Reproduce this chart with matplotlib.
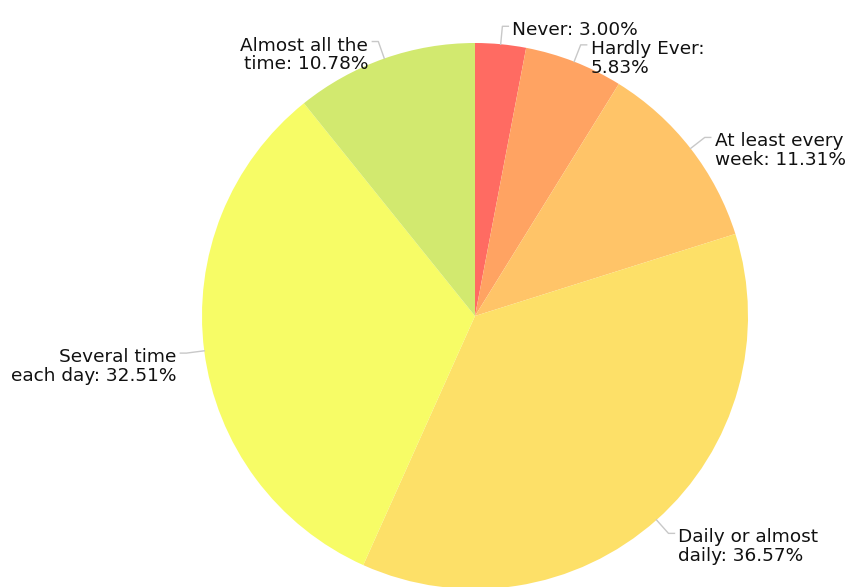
import numpy as np
import matplotlib
matplotlib.use("Agg")
from matplotlib import pyplot as plt

# data
labels = ["Never", "Hardly Ever", "At least every week", "Daily or almost daily",
          "Several time each day", "Almost all the time"]
label_text = ["Never:", "Hardly Ever:\n", "At least every\nweek:", "Daily or almost\ndaily:",
              "Several time\neach day:", "Almost all the\ntime:"]
values = [3.00, 5.83, 11.31, 36.57, 32.51, 10.78]
colors = ["#ff6b62", "#ffa362", "#ffc468", "#fde068", "#f7fc66", "#d2e96f"]

W, H = 850, 587
cx, cy, R = 475, H - 316, 273

fig = plt.figure(figsize=(W / 100, H / 100), dpi=100)
ax = fig.add_axes([0, 0, 1, 1])
wedges, _ = ax.pie(values, colors=colors, startangle=90, counterclock=False,
                   center=(cx, cy), radius=R, wedgeprops=dict(linewidth=0))
ax.set_xlim(0, W)
ax.set_ylim(0, H)
ax.set_aspect("equal")
ax.axis("off")

for w, txt, v in zip(wedges, label_text, values):
    ang = np.deg2rad((w.theta1 + w.theta2) / 2)
    dx, dy = np.cos(ang), np.sin(ang)
    p0 = (cx + R * dx, cy + R * dy)
    p1 = (cx + (R + 18) * dx, cy + (R + 18) * dy)
    side = 1 if dx >= 0 else -1
    p2 = (p1[0] + 6 * side, p1[1])
    ax.plot([p0[0], p1[0], p2[0]], [p0[1], p1[1], p2[1]], color="#c8c8c8", lw=1)
    sep = "" if txt.endswith("\n") else " "
    s = f"{txt}{sep}{v:.2f}%"
    ax.text(p2[0] + 4 * side, p1[1] + 5, s, ha="left" if side > 0 else "right",
            va="top", multialignment="left" if side > 0 else "right",
            fontsize=13.3, color="#111111", linespacing=1.05)

fig.savefig("out.png", dpi=100)
